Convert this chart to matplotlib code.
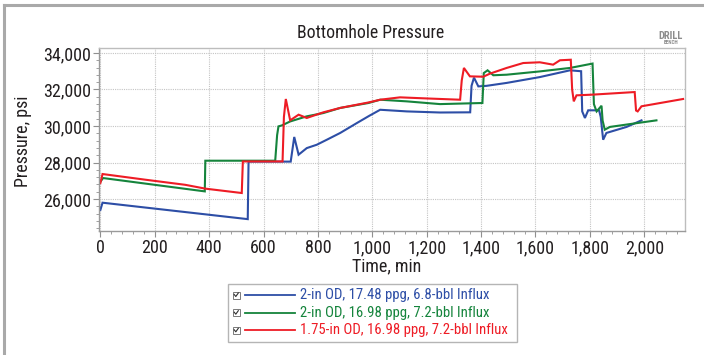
import matplotlib
matplotlib.use("Agg")
import matplotlib.pyplot as plt
from matplotlib.ticker import MultipleLocator, FuncFormatter
from matplotlib.patches import Rectangle
from matplotlib.lines import Line2D

plt.rcParams['font.family'] = ['Roboto Condensed', 'DejaVu Sans']

# ---- data ----
blue_t = [0, 8, 542, 545, 700, 713, 729, 759, 796, 833, 882, 943, 989, 1029, 1127, 1249,
          1360, 1365, 1374, 1390, 1420, 1494, 1616, 1727, 1768, 1772, 1782, 1794, 1834,
          1840, 1849, 1861, 1935, 1990]
blue_p = [25400, 25800, 24900, 28050, 28050, 29400, 28430, 28790, 28975, 29250, 29620,
          30160, 30560, 30890, 30800, 30740, 30750, 32200, 32650, 32170, 32200, 32360,
          32680, 33050, 33000, 30800, 30440, 30860, 30860, 30500, 29250, 29620, 29950, 30310]

green_t = [0, 10, 384, 386, 643, 650, 655, 667, 698, 759, 820, 882, 986, 1029, 1127, 1249,
           1405, 1410, 1424, 1445, 1494, 1616, 1727, 1810, 1815, 1820, 1825, 1843, 1847,
           1855, 1874, 1959, 2045]
green_p = [26950, 27150, 26420, 28100, 28100, 29500, 29980, 30030, 30250, 30530, 30710,
           30990, 31260, 31440, 31350, 31200, 31260, 32900, 33050, 32780, 32810, 32990,
           33180, 33420, 31200, 30990, 30800, 31110, 30300, 29800, 29950, 30130, 30310]

red_t = [0, 8, 165, 312, 386, 520, 524, 670, 675, 682, 698, 729, 759, 820, 882, 986, 1029,
         1102, 1200, 1323, 1329, 1337, 1359, 1408, 1433, 1494, 1555, 1616, 1665, 1690,
         1730, 1735, 1741, 1751, 1812, 1965, 1970, 1976, 1990, 2143]
red_p = [26870, 27370, 27060, 26780, 26570, 26330, 28060, 28060, 30500, 31480, 30310,
         30620, 30440, 30750, 30990, 31290, 31440, 31570, 31510, 31440, 32500, 33180,
         32720, 32700, 32870, 33180, 33450, 33490, 33360, 33600, 33630, 32000, 31350,
         31680, 31720, 31860, 30850, 30800, 31080, 31480]

labels = ["2-in OD, 17.48 ppg, 6.8-bbl Influx",
          "2-in OD, 16.98 ppg, 7.2-bbl Influx",
          "1.75-in OD, 16.98 ppg, 7.2-bbl Influx"]
colors = ["#2D4EA6", "#15843C", "#EE1C25"]
x_ticks = list(range(0, 2001, 200))
y_ticks = [26000, 28000, 30000, 32000, 34000]

W, H = 704, 355
def fx(px):
    return px / W
def fy(py):
    return 1 - py / H

fig = plt.figure(figsize=(W / 100, H / 100), dpi=100)
fig.patch.set_facecolor('white')

ax = fig.add_axes([fx(99), fy(231), fx(685) - fx(99), fy(47.5) - fy(231)])

series = [(blue_t, blue_p), (green_t, green_p), (red_t, red_p)]
for (t, p), c, lab in zip(series, colors, labels):
    ax.plot(t, p, color=c, lw=1.5, label=lab, solid_joinstyle='miter')

ax.set_xlim(-5, 2150)
ax.set_ylim(24250, 34300)
ax.set_xticks(x_ticks)
ax.set_yticks(y_ticks)
fmt = FuncFormatter(lambda v, pos: f"{int(v):,}")
ax.xaxis.set_major_formatter(fmt)
ax.yaxis.set_major_formatter(fmt)
ax.xaxis.set_minor_locator(MultipleLocator(40))
ax.yaxis.set_minor_locator(MultipleLocator(400))
ax.tick_params(which='major', direction='out', length=4, width=0.8, color='#909090',
               labelsize=13, labelcolor='#231f20', pad=2)
ax.tick_params(which='minor', direction='out', length=2, width=0.6, color='#909090')
ax.grid(which='major', linestyle=(0, (1, 1)), color='#c4c4c4', lw=0.8)
for s in ax.spines.values():
    s.set_color('#bdbdbd')
    s.set_linewidth(1.0)
ax.spines['left'].set_color('#9a9a9a')
ax.spines['bottom'].set_color('#9a9a9a')

fig.text(fx(371), fy(33), "Bottomhole Pressure", ha='center', va='center',
         fontsize=12.7, color='#231f20')
fig.text(fx(387), fy(266), "Time, min", ha='center', va='center',
         fontsize=13, color='#231f20')
fig.text(fx(23), fy(141), "Pressure, psi", ha='center', va='center', rotation=90,
         fontsize=13, color='#231f20')

# logo
fig.text(fx(671), fy(36), "DRILL", ha='center', va='center', fontsize=7.5,
         color='#8c8c8c', fontweight='bold')
fig.text(fx(671), fy(42.5), "BENCH", ha='center', va='center', fontsize=3.8,
         color='#8c8c8c', fontweight='bold')

# outer frame (top and left)
fig.add_artist(Line2D([fx(4), fx(704)], [fy(5), fy(5)], transform=fig.transFigure,
                      color='#a9a9a9', lw=2.2))
fig.add_artist(Line2D([fx(4), fx(4)], [fy(5), fy(355)], transform=fig.transFigure,
                      color='#a9a9a9', lw=2.2))

# legend box
fig.add_artist(Rectangle((fx(228), fy(342)), fx(517) - fx(228), fy(284) - fy(342),
                         transform=fig.transFigure, facecolor='white',
                         edgecolor='#b5b5b5', lw=1.0))
row_y = [295, 312.7, 330.3]
for yy, c, lab in zip(row_y, colors, labels):
    fig.add_artist(Rectangle((fx(232.5), fy(yy + 3.5)), fx(7), 7 / H,
                             transform=fig.transFigure, facecolor='white',
                             edgecolor='#7a7a7a', lw=0.7))
    fig.add_artist(Line2D([fx(234.2), fx(235.8), fx(238.3)],
                          [fy(yy - 0.5), fy(yy + 1.5), fy(yy - 2)],
                          transform=fig.transFigure, color='#303030', lw=0.8))
    fig.add_artist(Line2D([fx(245), fx(295)], [fy(yy), fy(yy)],
                          transform=fig.transFigure, color=c, lw=1.3))
    fig.text(fx(300), fy(yy), lab, ha='left', va='center', fontsize=10.6, color=c)

fig.savefig("out.png", dpi=100, facecolor='white')
